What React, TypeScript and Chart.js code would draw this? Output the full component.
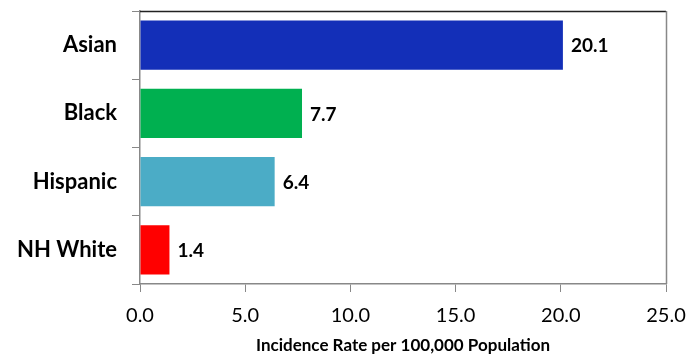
import React, { useEffect, useRef } from "react";
import { Chart, registerables } from "chart.js";

Chart.register(...registerables);

const categories = ["Asian", "Black", "Hispanic", "NH White"];
const rates = [20.1, 7.7, 6.4, 1.4];
const barColors = ["#132FB8", "#00B050", "#4BACC6", "#FF0000"];
const xTicks = [0, 5, 10, 15, 20, 25];
const xTitle = "Incidence Rate per 100,000 Population";

const FONT = "Lato, 'Open Sans', sans-serif";

const valueLabels = {
  id: "valueLabels",
  afterDatasetsDraw(chart: any) {
    const ctx = chart.ctx;
    const meta = chart.getDatasetMeta(0);
    ctx.save();
    ctx.font = `bold 19px ${FONT}`;
    ctx.fillStyle = "#000";
    ctx.textAlign = "left";
    ctx.textBaseline = "middle";
    meta.data.forEach((bar: any, i: number) => {
      ctx.fillText(rates[i].toFixed(1), bar.x + 8, bar.y + 1);
    });
    ctx.restore();
  },
};

const frame = {
  id: "frame",
  afterDraw(chart: any) {
    const { ctx, chartArea } = chart;
    ctx.save();
    ctx.lineWidth = 1.5;
    ctx.strokeStyle = "#222";
    ctx.beginPath();
    ctx.moveTo(chartArea.left, chartArea.top + 0.5);
    ctx.lineTo(chartArea.right, chartArea.top + 0.5);
    ctx.stroke();
    ctx.strokeStyle = "#888";
    ctx.beginPath();
    ctx.moveTo(chartArea.right + 0.5, chartArea.top);
    ctx.lineTo(chartArea.right + 0.5, chartArea.bottom);
    ctx.stroke();
    ctx.restore();
  },
};

export default function App() {
  const ref = useRef<HTMLCanvasElement | null>(null);
  useEffect(() => {
    document.body.style.margin = "0";
    const chart = new Chart(ref.current as HTMLCanvasElement, {
      type: "bar",
      data: {
        labels: categories,
        datasets: [
          {
            data: rates,
            backgroundColor: barColors,
            borderWidth: 0,
            barPercentage: 0.72,
            categoryPercentage: 1,
          },
        ],
      },
      options: {
        indexAxis: "y",
        animation: false,
        responsive: false,
        layout: { padding: { left: 0, top: 11, right: 29, bottom: 0 } },
        plugins: { legend: { display: false }, tooltip: { enabled: false } },
        scales: {
          x: {
            min: 0,
            max: 25,
            afterFit(scale: any) {
              scale.height = 71;
              scale.paddingLeft = 0;
              scale.paddingRight = 0;
            },
            afterBuildTicks(scale: any) {
              scale.ticks = xTicks.map((v) => ({ value: v }));
            },
            ticks: {
              color: "#000",
              font: { family: FONT, size: 20 },
              padding: 12,
              maxRotation: 0,
              callback: (v: any) => Number(v).toFixed(1),
            },
            grid: {
              drawOnChartArea: false,
              drawTicks: true,
              tickLength: 8,
              color: "#888",
            },
            border: { color: "#888", width: 1.5 },
            title: {
              display: true,
              text: xTitle,
              color: "#000",
              font: { family: FONT, size: 17, weight: "bold" },
              padding: { top: 0, bottom: -1 },
            },
          },
          y: {
            afterFit(scale: any) {
              scale.width = 140;
              scale.paddingTop = 0;
              scale.paddingBottom = 0;
            },
            ticks: {
              color: "#000",
              font: { family: FONT, size: 22, weight: "bold" },
              padding: 15,
            },
            grid: {
              offset: true,
              drawOnChartArea: false,
              drawTicks: true,
              tickLength: 8,
              color: "#888",
            },
            border: { color: "#888", width: 1.5 },
          },
        },
      },
      plugins: [valueLabels, frame],
    } as any);
    return () => chart.destroy();
  }, []);
  return <canvas ref={ref} width={695} height={355} style={{ display: "block" }} />;
}
